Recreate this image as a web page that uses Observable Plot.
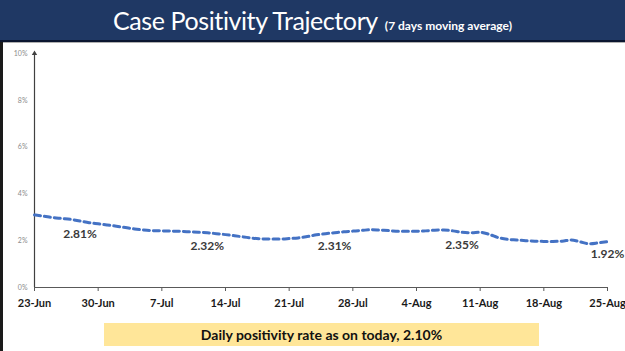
<!DOCTYPE html>
<html><head><meta charset="utf-8">
<script src="https://cdn.jsdelivr.net/npm/d3@7"></script>
<script src="https://cdn.jsdelivr.net/npm/@observablehq/plot@0.6"></script>
<style>
body{margin:0;background:#fff;}
#wrap{position:relative;width:625px;height:351px;overflow:hidden;background:#fff;font-family:Lato,"Open Sans",sans-serif;}
#title{height:40px;background:#1F3864;border-bottom:2px solid #0b1630;box-shadow:0 1px 0 #b0b0b0;display:flex;justify-content:center;align-items:baseline;color:#fff;padding-top:0;box-sizing:content-box;}
#title .main{font-size:25px;letter-spacing:-0.4px;line-height:40px;}
#title .sub{font-size:12px;font-weight:bold;margin-left:7px;}
#edge{position:absolute;left:0;top:42px;width:3px;height:309px;background:#1a1a1a;}
#chart{display:block;}
#caption{margin:5px 0 0 104px;width:435px;height:23px;background:#FFE699;text-align:center;line-height:23px;font-weight:bold;font-size:14px;color:#111;}
</style></head>
<body>
<div id="wrap">
  <div id="title"><span class="main">Case Positivity Trajectory</span><span class="sub">(7 days moving average)</span></div>
  <div id="chart"></div>
  <div id="caption">Daily positivity rate as on today, 2.10%</div>
  <div id="edge"></div>
</div>
<script>
// 7-day moving average positivity (%), daily from 23-Jun to 25-Aug
const startDate = "2020-06-23";
const positivity = [
  3.10, 3.05, 2.99, 2.95, 2.91, 2.84, 2.77, 2.72, 2.67, 2.62,
  2.56, 2.50, 2.46, 2.43, 2.42, 2.41, 2.40, 2.38, 2.36, 2.34,
  2.30, 2.26, 2.21, 2.16, 2.11, 2.08, 2.07, 2.07, 2.09, 2.12,
  2.18, 2.25, 2.30, 2.34, 2.38, 2.41, 2.44, 2.47, 2.45, 2.43,
  2.40, 2.40, 2.40, 2.42, 2.45, 2.46, 2.42, 2.36, 2.34, 2.36,
  2.27, 2.13, 2.06, 2.03, 2.00, 1.98, 1.97, 1.97, 1.98, 2.03,
  1.95, 1.87, 1.91, 1.96
];
const tickLabels = ["23-Jun","30-Jun","7-Jul","14-Jul","21-Jul","28-Jul","4-Aug","11-Aug","18-Aug","25-Aug"];
const yTicks = [0, 2, 4, 6, 8, 10];
const labelDates = ["2020-06-28","2020-07-12","2020-07-26","2020-08-09","2020-08-25"];
const labelTexts = ["2.81%","2.32%","2.31%","2.35%","1.92%"];

const start = new Date(startDate);
const data = positivity.map((v, i) => ({date: d3.utcDay.offset(start, i), value: v}));
const x0 = data[0].date, x1 = data[data.length - 1].date;
const tickDates = tickLabels.map((_, i) => d3.utcDay.offset(start, 7 * i));
const tickMap = new Map(tickDates.map((d, i) => [+d, tickLabels[i]]));
const byTime = new Map(data.map(d => [+d.date, d.value]));
const labels = labelDates.map((s, i) => {
  const dt = new Date(s);
  return {date: dt, value: byTime.get(+dt), text: labelTexts[i]};
});

const chart = Plot.plot({
  width: 625, height: 276,
  marginTop: 11, marginBottom: 31, marginLeft: 34, marginRight: 18,
  style: {fontFamily: "Lato, 'Open Sans', sans-serif", background: "transparent", overflow: "visible"},
  x: {type: "utc", domain: [x0, x1]},
  y: {domain: [0, 10]},
  marks: [
    Plot.axisY({ticks: yTicks, tickFormat: d => d + "%", tickSize: 0, tickPadding: 7, fontSize: 7, fill: "#8c8c8c", label: null}),
    Plot.axisX({ticks: tickDates, tickFormat: d => tickMap.get(+d), tickSize: 4, tickPadding: 8, fontSize: 11, fontWeight: "bold", fill: "#1a1a1a", stroke: "#595959", label: null}),
    Plot.ruleY([0], {stroke: "#595959", strokeWidth: 1.2}),
    Plot.ruleX([x0], {y1: 0, y2: 10, stroke: "#404040", strokeWidth: 1.2}),
    Plot.dot([{date: x0, value: 10}], {x: "date", y: "value", symbol: "triangle", r: 2, fill: "#404040"}),
    Plot.line(data, {x: "date", y: "value", stroke: "#4472C4", strokeWidth: 3, strokeDasharray: "6,4", curve: "monotone-x"}),
    Plot.text(labels, {x: "date", y: "value", text: "text", dy: 13, fontSize: 12, fill: "#3a3a3a", fontWeight: "bold"})
  ]
});
document.getElementById("chart").appendChild(chart);
</script>
</body></html>
